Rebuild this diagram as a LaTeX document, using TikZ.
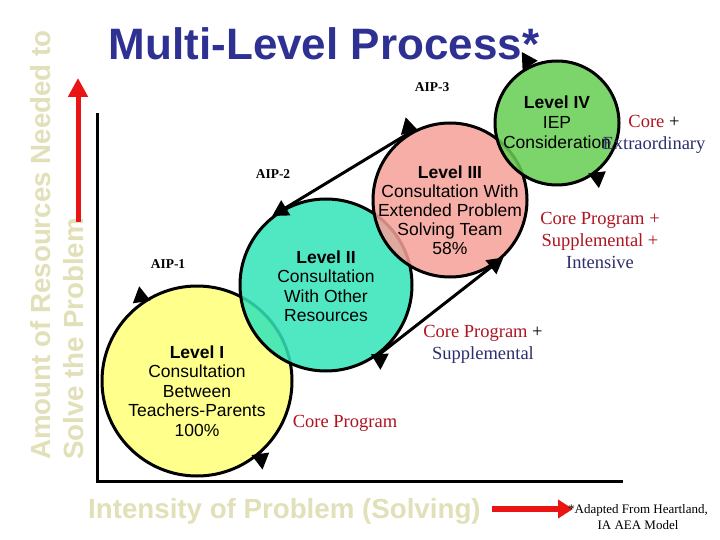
\documentclass[tikz,border=0pt]{standalone}
\usepackage{fontspec}
\setmainfont{Liberation Sans}
\newfontfamily\timesfont{Liberation Serif}
\usetikzlibrary{arrows.meta}
\definecolor{titleblue}{RGB}{46,49,146}
\definecolor{axisbeige}{RGB}{226,224,184}
\definecolor{lvlone}{RGB}{255,255,140}
\definecolor{lvltwo}{RGB}{50,228,185}
\definecolor{lvlthree}{RGB}{245,160,152}
\definecolor{lvlfour}{RGB}{102,206,82}
\definecolor{corered}{RGB}{176,20,32}
\definecolor{suppnavy}{RGB}{46,46,110}
\definecolor{arrowred}{RGB}{235,20,20}

\begin{document}
\begin{tikzpicture}[x=1pt, y=-1pt]
    \tikzset{
        level/.style={
            circle, draw=black, line width=3pt, inner sep=0pt
        },
        lvltext/.style={
            align=center, inner sep=0pt,
            font=\fontsize{17.5}{19.5}\selectfont
        },
        support/.style={
            align=center, inner sep=0pt,
            font=\timesfont\fontsize{18.5}{22}\selectfont
        },
        aip/.style={
            font=\timesfont\bfseries\fontsize{13.5}{15}\selectfont
        },
        turn/.style={
            line width=3pt, -{Triangle[length=16pt,width=17pt]}
        },
        link/.style={
            line width=3pt, -{Triangle[length=16pt,width=17pt]}
        },
        axislabel/.style={
            text=axisbeige, inner sep=0pt,
            font=\bfseries\fontsize{27.7}{32}\selectfont
        },
        bigarrow/.style={
            draw=arrowred, line width=6pt
        },
    }
    \useasboundingbox[fill=white] (0,0) rectangle (720,540);

    % ==== Title and axes ====
    \node[font=\bfseries\fontsize{44}{50}\selectfont, text=titleblue, anchor=base]
        (title) at (324,60) {Multi-Level Process*};
    \coordinate (ytop) at (97,113);
    \coordinate (origin) at (97,481);
    \coordinate (xend) at (623,481);
    \draw[line width=3pt] (ytop) -- (origin) -- (xend);

    \node[axislabel, rotate=90, anchor=base west] (ylab1) at (50,460) {Amount of Resources Needed to};
    \node[axislabel, rotate=90, anchor=base west] (ylab2) at (83,460) {Solve the Problem};
    \node[axislabel, anchor=base west] (xlab) at (88,518) {Intensity of Problem (Solving)};

    \coordinate (up0) at (78,222);
    \coordinate (up1) at (78,78);
    \draw[bigarrow, line width=5pt, -{Triangle[length=19pt,width=19pt]}] (up0) -- (up1);
    \coordinate (rt0) at (492,509);
    \coordinate (rt1) at (573,509);
    \draw[bigarrow, -{Triangle[length=15pt,width=18pt]}] (rt0) -- (rt1);

    % ==== Levels ====
    \node[level, fill=lvlone, minimum size=190pt] (L1) at (197,381) {};
    \node[lvltext] (T1) at (197,391)
        {\textbf{Level I}\\Consultation\\Between\\Teachers-Parents\\100\%};
    \node[level, fill=lvltwo, fill opacity=0.85, minimum size=172pt] (L2) at (326,285) {};
    \node[lvltext] (T2) at (326,286)
        {\textbf{Level II}\\Consultation\\With Other\\Resources};
    \node[level, fill=lvlthree, fill opacity=0.85, minimum size=154pt] (L3) at (450,200) {};
    \node[lvltext, font=\fontsize{17.5}{19}\selectfont] (T3) at (450,210)
        {\textbf{Level III}\\Consultation With\\Extended Problem\\Solving Team\\58\%};
    \node[level, fill=lvlfour, fill opacity=0.85, minimum size=124pt] (L4) at (557,123) {};
    \node[lvltext, font=\fontsize{17.5}{20}\selectfont] (T4) at (557,122)
        {\textbf{Level IV}\\IEP\\Consideration};

    % ==== Cycle arrows and links ====
    \draw[turn] (L1.125) -- ++(99:16pt);
    \draw[turn] (L1.-49) -- ++(-82:16pt);
    \draw[turn] (L2.-52) -- ++(-88:16pt);
    \draw[turn] (L3.121) -- ++(104:16pt);
    \draw[turn] (L4.115) -- ++(122:16pt);
    \draw[turn] (L4.-51) -- ++(-83:16pt);
    \draw[link] (L3.121) -- (L2.128);
    \draw[link] (L2.-52) -- (L3.-47);

    % ==== Programs ====
    \node[support, text=corered] (S1) at (345,423) {Core Program};
    \node[support] (S2) at (483,344)
        {\textcolor{corered}{Core Program} +\\\textcolor{suppnavy}{Supplemental}};
    \node[support, text=corered] (S3) at (600,240)
        {Core Program +\\Supplemental +\\\textcolor{suppnavy}{Intensive}};
    \node[support] (S4) at (654,134)
        {\textcolor{corered}{Core} +\\\textcolor{suppnavy}{Extraordinary}};

    \node[aip] (A1) at (168,264) {AIP-1};
    \node[aip] (A2) at (273,174) {AIP-2};
    \node[aip] (A3) at (432,87) {AIP-3};

    \node[font=\timesfont\fontsize{13}{16}\selectfont, align=center, inner sep=0pt]
        (note) at (638,517) {*Adapted From Heartland,\\IA AEA Model};
\end{tikzpicture}
\end{document}
